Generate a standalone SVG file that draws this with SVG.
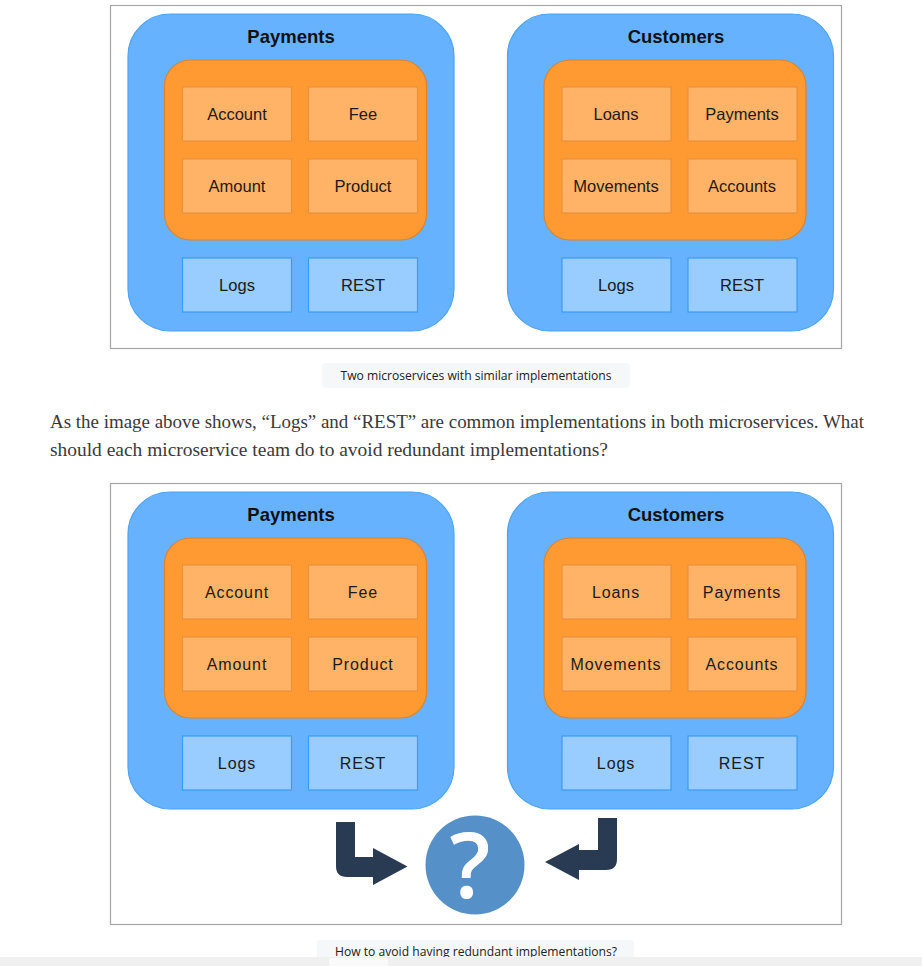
<svg xmlns="http://www.w3.org/2000/svg" width="922" height="966" viewBox="0 0 922 966">
<style>
.frame{fill:#fff;stroke:#a6a6a6;stroke-width:1.2}
.svc{fill:#66b2ff;stroke:#4da3f5;stroke-width:1.2}
.core{fill:#ff9a33;stroke:#e0822a;stroke-width:1.2}
.mod{fill:#ffb366;stroke:#e8923c;stroke-width:1.2}
.infra{fill:#99ccff;stroke:#3b9cf5;stroke-width:1.2}
.title{font-family:"Liberation Sans",Arial,sans-serif;font-weight:bold;font-size:18.5px;fill:#111;text-anchor:middle}
.lbl{font-family:"Liberation Sans",Arial,sans-serif;font-size:16.5px;fill:#1a1a1a;text-anchor:middle}
.lbl2{font-family:"Liberation Sans",Arial,sans-serif;font-size:16px;letter-spacing:0.9px;fill:#1a1a1a;text-anchor:middle}
.cap{font-family:"Open Sans","Noto Sans",sans-serif;font-size:12.5px;fill:#222;text-anchor:middle}
.capbg{fill:#f6f7f9}
.para{font-family:"Liberation Serif","DejaVu Serif",serif;font-size:18px;fill:#3a3a3a}
.arrow{fill:#283b52}
</style>

<!-- Top figure -->
<rect class="frame" x="110.5" y="5.5" width="731" height="343"/>
<g id="top-payments">
  <rect class="svc" x="128" y="14" width="326" height="317" rx="42"/>
  <text class="title" x="291" y="43">Payments</text>
  <rect class="core" x="164.5" y="60" width="262" height="180" rx="26"/>
  <g id="top-p-account"><rect class="mod" x="182.5" y="87" width="109" height="54"/><text class="lbl" x="237" y="119.5">Account</text></g>
  <g id="top-p-fee"><rect class="mod" x="308.5" y="87" width="109" height="54"/><text class="lbl" x="363" y="119.5">Fee</text></g>
  <g id="top-p-amount"><rect class="mod" x="182.5" y="159" width="109" height="54"/><text class="lbl" x="237" y="191.5">Amount</text></g>
  <g id="top-p-product"><rect class="mod" x="308.5" y="159" width="109" height="54"/><text class="lbl" x="363" y="191.5">Product</text></g>
  <g id="top-p-logs"><rect class="infra" x="182.5" y="258" width="109" height="54"/><text class="lbl" x="237" y="290.5">Logs</text></g>
  <g id="top-p-rest"><rect class="infra" x="308.5" y="258" width="109" height="54"/><text class="lbl" x="363" y="290.5">REST</text></g>
</g>
<g id="top-customers">
  <rect class="svc" x="507.5" y="14" width="326" height="317" rx="42"/>
  <text class="title" x="676" y="43">Customers</text>
  <rect class="core" x="544" y="60" width="262" height="180" rx="26"/>
  <g id="top-c-loans"><rect class="mod" x="562" y="87" width="109" height="54"/><text class="lbl" x="616" y="119.5">Loans</text></g>
  <g id="top-c-payments"><rect class="mod" x="688" y="87" width="109" height="54"/><text class="lbl" x="742" y="119.5">Payments</text></g>
  <g id="top-c-movements"><rect class="mod" x="562" y="159" width="109" height="54"/><text class="lbl" x="616" y="191.5">Movements</text></g>
  <g id="top-c-accounts"><rect class="mod" x="688" y="159" width="109" height="54"/><text class="lbl" x="742" y="191.5">Accounts</text></g>
  <g id="top-c-logs"><rect class="infra" x="562" y="258" width="109" height="54"/><text class="lbl" x="616" y="290.5">Logs</text></g>
  <g id="top-c-rest"><rect class="infra" x="688" y="258" width="109" height="54"/><text class="lbl" x="742" y="290.5">REST</text></g>
</g>

<g id="caption-1">
  <rect class="capbg" x="322" y="363" width="308" height="25" rx="3"/>
  <text class="cap" x="476" y="380" textLength="271" lengthAdjust="spacingAndGlyphs">Two microservices with similar implementations</text>
</g>

<g id="paragraph">
  <text class="para" x="50" y="428" textLength="814" lengthAdjust="spacingAndGlyphs">As the image above shows, “Logs” and “REST” are common implementations in both microservices. What</text>
  <text class="para" x="50" y="456" textLength="558" lengthAdjust="spacingAndGlyphs">should each microservice team do to avoid redundant implementations?</text>
</g>

<!-- Bottom figure -->
<rect class="frame" x="110.5" y="483.5" width="731" height="441"/>
<g id="bot-payments">
  <rect class="svc" x="128" y="492" width="326" height="317" rx="42"/>
  <text class="title" x="291" y="521">Payments</text>
  <rect class="core" x="164.5" y="538" width="262" height="180" rx="26"/>
  <g id="bot-p-account"><rect class="mod" x="182.5" y="565" width="109" height="54"/><text class="lbl2" x="237" y="597.5">Account</text></g>
  <g id="bot-p-fee"><rect class="mod" x="308.5" y="565" width="109" height="54"/><text class="lbl2" x="363" y="597.5">Fee</text></g>
  <g id="bot-p-amount"><rect class="mod" x="182.5" y="637" width="109" height="54"/><text class="lbl2" x="237" y="669.5">Amount</text></g>
  <g id="bot-p-product"><rect class="mod" x="308.5" y="637" width="109" height="54"/><text class="lbl2" x="363" y="669.5">Product</text></g>
  <g id="bot-p-logs"><rect class="infra" x="182.5" y="736" width="109" height="54"/><text class="lbl2" x="237" y="768.5">Logs</text></g>
  <g id="bot-p-rest"><rect class="infra" x="308.5" y="736" width="109" height="54"/><text class="lbl2" x="363" y="768.5">REST</text></g>
</g>
<g id="bot-customers">
  <rect class="svc" x="507.5" y="492" width="326" height="317" rx="42"/>
  <text class="title" x="676" y="521">Customers</text>
  <rect class="core" x="544" y="538" width="262" height="180" rx="26"/>
  <g id="bot-c-loans"><rect class="mod" x="562" y="565" width="109" height="54"/><text class="lbl2" x="616" y="597.5">Loans</text></g>
  <g id="bot-c-payments"><rect class="mod" x="688" y="565" width="109" height="54"/><text class="lbl2" x="742" y="597.5">Payments</text></g>
  <g id="bot-c-movements"><rect class="mod" x="562" y="637" width="109" height="54"/><text class="lbl2" x="616" y="669.5">Movements</text></g>
  <g id="bot-c-accounts"><rect class="mod" x="688" y="637" width="109" height="54"/><text class="lbl2" x="742" y="669.5">Accounts</text></g>
  <g id="bot-c-logs"><rect class="infra" x="562" y="736" width="109" height="54"/><text class="lbl2" x="616" y="768.5">Logs</text></g>
  <g id="bot-c-rest"><rect class="infra" x="688" y="736" width="109" height="54"/><text class="lbl2" x="742" y="768.5">REST</text></g>
</g>

<g id="connectors">
  <path class="arrow" d="M336,822 H355 V857 H373 V848 L407.5,866.5 L373,885 V877 H347 Q336,877 336,866 Z"/>
  <path class="arrow" d="M617,818 V859 Q617,870 606,870 H579 V880 L545,862 L579,844 V850 H598 V818 Z"/>
</g>

<g id="question">
  <circle cx="475" cy="865" r="49.5" fill="#5590c8"/>
  <text x="470" y="898" font-family="'Open Sans','DejaVu Sans',sans-serif" font-weight="600" font-size="90" fill="#fff" text-anchor="middle">?</text>
</g>

<g id="caption-2">
  <rect class="capbg" x="317" y="940" width="317" height="26" rx="3"/>
  <text class="cap" x="476" y="956" textLength="282" lengthAdjust="spacingAndGlyphs" font-size="13">How to avoid having redundant implementations?</text>
</g>
<rect x="0" y="957" width="922" height="9" fill="#f0f0f0"/>
<rect x="329" y="958" width="59" height="8" rx="3" fill="#fafafa"/>
</svg>
